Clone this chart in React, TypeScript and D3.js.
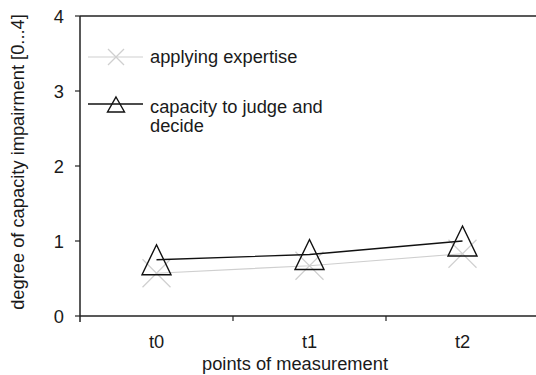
import React from "react";
import * as d3 from "d3";

const categories = ["t0", "t1", "t2"];
const applyingExpertise = [0.57, 0.67, 0.83];
const capacityJudge = [0.75, 0.82, 1.0];
const yTicks = [0, 1, 2, 3, 4];
const seriesNames = ["applying expertise", "capacity to judge and", "decide"];

const W = 536;
const H = 375;
const left = 80;
const right = 539;
const top = 16;
const bottom = 316;
const FONT = "'Liberation Sans', Arial, sans-serif";
const FS = 18.3;
const TXT = "#1a1a1a";
const GRAY = "#cfcfcf";

export default function App() {
  const x = d3.scaleBand<string>().domain(categories).range([left, right]);
  const y = d3.scaleLinear().domain([0, 4]).range([bottom, top]);
  const cx = (c: string) => (x(c) as number) + x.bandwidth() / 2;

  const line = d3
    .line<number>()
    .x((_, i) => cx(categories[i]))
    .y((d) => y(d));

  const cross = (px: number, py: number, s: number, key: string) => (
    <g key={key} stroke={GRAY} strokeWidth={1.2}>
      <line x1={px - s} y1={py - s} x2={px + s} y2={py + s} />
      <line x1={px - s} y1={py + s} x2={px + s} y2={py - s} />
    </g>
  );
  const tri = (px: number, py: number, w: number, h: number, key: string) => (
    <path
      key={key}
      d={`M${px},${py - h / 2}L${px + w / 2},${py + h / 2}L${px - w / 2},${py + h / 2}Z`}
      fill="none"
      stroke="#111"
      strokeWidth={1.4}
      strokeLinejoin="miter"
    />
  );

  const separators = categories.slice(1).map((c) => x(c) as number);

  return (
    <svg
      width={W}
      height={H}
      style={{ position: "absolute", left: 0, top: 0, background: "#fff" }}
      fontFamily={FONT}
    >
      <rect width={W} height={H} fill="#fff" />
      {/* frame */}
      <line x1={left} y1={top} x2={W} y2={top} stroke="#222" strokeWidth={1.5} />
      <line x1={left} y1={top} x2={left} y2={bottom + 6} stroke="#222" strokeWidth={1.5} />
      <line x1={left} y1={bottom} x2={W} y2={bottom} stroke="#222" strokeWidth={1.5} />
      {yTicks.map((t) => (
        <g key={t}>
          <line x1={left - 5} x2={left} y1={y(t)} y2={y(t)} stroke="#222" strokeWidth={1.2} />
          <text x={64} y={y(t)} dy="0.36em" textAnchor="end" fontSize={FS} fill={TXT}>
            {t}
          </text>
        </g>
      ))}
      {separators.map((s, i) => (
        <line key={i} x1={s} x2={s} y1={bottom} y2={bottom + 5} stroke="#222" strokeWidth={1.2} />
      ))}
      {categories.map((c) => (
        <text key={c} x={cx(c)} y={348} textAnchor="middle" fontSize={FS} fill={TXT}>
          {c}
        </text>
      ))}
      <text x={295} y={369.5} textAnchor="middle" fontSize={FS} fill={TXT}>
        points of measurement
      </text>
      <text
        transform={`translate(24,162) rotate(-90)`}
        textAnchor="middle"
        fontSize={FS}
        fill={TXT}
      >
        degree of capacity impairment [0...4]
      </text>

      {/* series: applying expertise */}
      <path d={line(applyingExpertise) || ""} fill="none" stroke={GRAY} strokeWidth={1.2} />
      {applyingExpertise.map((v, i) => cross(cx(categories[i]), y(v), 14, "c" + i))}

      {/* series: capacity to judge */}
      <path d={line(capacityJudge) || ""} fill="none" stroke="#111" strokeWidth={1.3} />
      {capacityJudge.map((v, i) => tri(cx(categories[i]), y(v), 29, 30, "t" + i))}

      {/* legend */}
      <line x1={88} x2={143} y1={57} y2={57} stroke={GRAY} strokeWidth={1.2} />
      {cross(116, 57, 8, "lc")}
      <text x={150} y={63} fontSize={FS} fill={TXT}>
        {seriesNames[0]}
      </text>
      <line x1={88} x2={143} y1={104} y2={104} stroke="#111" strokeWidth={1.3} />
      {tri(116, 104.5, 17, 15, "lt")}
      <text x={150} y={113} fontSize={FS} fill={TXT}>
        {seriesNames[1]}
      </text>
      <text x={150} y={132} fontSize={FS} fill={TXT}>
        {seriesNames[2]}
      </text>
    </svg>
  );
}
